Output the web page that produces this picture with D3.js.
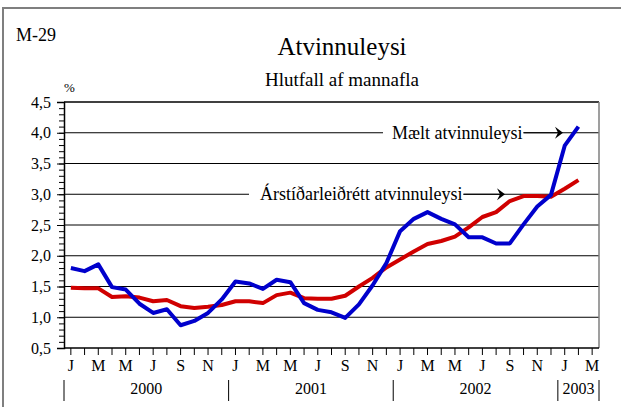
<!DOCTYPE html>
<html>
<head>
<meta charset="utf-8">
<script src="https://cdn.jsdelivr.net/npm/d3@7"></script>
<style>
  body { margin: 0; background: #fff; }
  svg text { font-family: "Liberation Serif", "Times New Roman", serif; fill: #000; }
</style>
</head>
<body>
<div id="chart"></div>
<script>
// Chart data
const years = ["2000", "2001", "2002", "2003"];
const monthsPerYear = [12, 12, 12, 3];
const monthLetters = ["J", "F", "M", "A", "M", "J", "J", "A", "S", "O", "N", "D"];
const yTicks = [0.5, 1.0, 1.5, 2.0, 2.5, 3.0, 3.5, 4.0, 4.5];

// Mælt atvinnuleysi (measured), Jan 2000 - Feb 2003
const measured = [
  1.80, 1.75, 1.86, 1.49, 1.45, 1.22, 1.07, 1.13, 0.87, 0.94, 1.07, 1.29,
  1.58, 1.55, 1.46, 1.61, 1.57, 1.23, 1.12, 1.08, 0.99, 1.21, 1.52, 1.88,
  2.40, 2.60, 2.71, 2.60, 2.51, 2.30, 2.30, 2.20, 2.20, 2.51, 2.80, 2.99,
  3.79, 4.10
];
// Árstíðarleiðrétt atvinnuleysi (seasonally adjusted)
const adjusted = [
  1.48, 1.47, 1.47, 1.33, 1.34, 1.32, 1.26, 1.28, 1.18, 1.15, 1.17, 1.20,
  1.26, 1.26, 1.23, 1.36, 1.40, 1.31, 1.30, 1.30, 1.35, 1.50, 1.64, 1.81,
  1.94, 2.07, 2.19, 2.24, 2.31, 2.46, 2.63, 2.71, 2.89, 2.97, 2.97, 2.96,
  3.09, 3.23
];

// month categories built from the arrays above
const months = [];
years.forEach((y, i) => {
  for (let m = 0; m < monthsPerYear[i]; m++) months.push({ year: y, m: m, key: y + "-" + m });
});

const width = 621, height = 407;
const plot = { left: 64, right: 599, top: 102, bottom: 348 };
const serif = "'Liberation Serif', 'Times New Roman', serif";

const svg = d3.select("#chart").append("svg")
  .attr("width", width)
  .attr("height", height)
  .attr("font-family", serif);

// outer frame
svg.append("rect")
  .attr("x", 3).attr("y", 8)
  .attr("width", 700).attr("height", 500)
  .attr("fill", "none")
  .attr("stroke", "#7f7f7f")
  .attr("stroke-width", 2);

const x = d3.scaleBand()
  .domain(months.map(d => d.key))
  .range([plot.left, plot.right]);

const y = d3.scaleLinear()
  .domain([0.5, 4.5])
  .range([plot.bottom, plot.top]);

const xc = i => x(months[i].key) + x.bandwidth() / 2;

// Titles
svg.append("text").attr("x", 16).attr("y", 41)
  .style("font-size", "18px").text("M-29");
svg.append("text").attr("x", 342).attr("y", 55)
  .attr("text-anchor", "middle").style("font-size", "25px").text("Atvinnuleysi");
svg.append("text").attr("x", 342).attr("y", 86)
  .attr("text-anchor", "middle").style("font-size", "19px").text("Hlutfall af mannafla");
svg.append("text").attr("x", 64).attr("y", 92)
  .style("font-size", "13px").text("%");

// gridlines
svg.append("g")
  .selectAll("line")
  .data(yTicks.filter(d => d > 0.5 && d < 4.5))
  .join("line")
  .attr("x1", plot.left).attr("x2", plot.right)
  .attr("y1", d => y(d)).attr("y2", d => y(d))
  .attr("stroke", "#000")
  .attr("stroke-width", 1);

// plot border: top black, right grey
svg.append("line")
  .attr("x1", plot.left).attr("x2", plot.right)
  .attr("y1", plot.top).attr("y2", plot.top)
  .attr("stroke", "#000").attr("stroke-width", 1.5);
svg.append("line")
  .attr("x1", plot.right).attr("x2", plot.right)
  .attr("y1", plot.top).attr("y2", plot.bottom)
  .attr("stroke", "#7f7f7f").attr("stroke-width", 1.5);

// y axis with minor ticks
const yAxis = svg.append("g").attr("transform", `translate(${plot.left},0)`);
yAxis.append("g")
  .call(d3.axisLeft(y).tickValues(d3.range(5, 46).map(d => d / 10)).tickSize(5).tickFormat(""))
  .call(g => g.select(".domain").remove())
  .call(g => g.selectAll("line").attr("stroke", "#000"));
yAxis.append("g")
  .call(d3.axisLeft(y).tickValues(yTicks).tickSize(7).tickPadding(6)
    .tickFormat(d => d3.format(".1f")(d).replace(".", ",")))
  .attr("font-family", serif).attr("font-size", 16)
  .call(g => g.select(".domain").attr("stroke", "#000").attr("stroke-width", 1.5))
  .call(g => g.selectAll("line").attr("stroke", "#000"))
  .call(g => g.selectAll("text").attr("fill", "#000"));

// x axis with month ticks
const xAxis = svg.append("g").attr("transform", `translate(0,${plot.bottom})`);
xAxis.call(d3.axisBottom(x).tickSize(7).tickPadding(5)
    .tickFormat(k => {
      const mm = months.find(d => d.key === k).m;
      return mm % 2 === 0 ? monthLetters[mm] : "";
    }))
  .attr("font-family", serif).attr("font-size", 16)
  .call(g => g.select(".domain").attr("stroke", "#000").attr("stroke-width", 1.5).attr("d", `M${plot.left},0H${plot.right}`))
  .call(g => g.selectAll("line").attr("stroke", "#000"))
  .call(g => g.selectAll("text").attr("fill", "#000"));

// year groups below
let start = 0;
const yearInfo = years.map((yr, i) => {
  const s = start, e = start + monthsPerYear[i] - 1;
  start += monthsPerYear[i];
  return { yr, x0: x(months[s].key), x1: x(months[e].key) + x.bandwidth() };
});
const yg = svg.append("g");
yg.selectAll("text").data(yearInfo).join("text")
  .attr("x", d => (d.x0 + d.x1) / 2)
  .attr("y", 394)
  .attr("text-anchor", "middle")
  .style("font-size", "16px")
  .text(d => d.yr);
const seps = yearInfo.map(d => d.x0).concat([yearInfo[yearInfo.length - 1].x1]);
yg.selectAll("line").data(seps).join("line")
  .attr("x1", d => d).attr("x2", d => d)
  .attr("y1", 380).attr("y2", 401)
  .attr("stroke", "#000").attr("stroke-width", 1);

// series lines
const line = d3.line().x((d, i) => xc(i)).y(d => y(d));
svg.append("path").datum(adjusted)
  .attr("d", line).attr("fill", "none")
  .attr("stroke", "#d00000").attr("stroke-width", 4)
  .attr("stroke-linejoin", "round");
svg.append("path").datum(measured)
  .attr("d", line).attr("fill", "none")
  .attr("stroke", "#0000cc").attr("stroke-width", 4)
  .attr("stroke-linejoin", "round");

// annotations
function note(label, v, boxX0, textX, lineEnd, size) {
  const yy = y(v);
  const g = svg.append("g");
  const t = g.append("text").attr("x", textX).attr("y", yy + 6)
    .style("font-size", size + "px").text(label);
  const tw = t.node().getComputedTextLength();
  g.insert("rect", "text")
    .attr("x", boxX0).attr("y", yy - 12)
    .attr("width", textX + tw - boxX0 + 1).attr("height", 24)
    .attr("fill", "#fff");
  const lx = textX + tw + 1;
  g.append("line").attr("x1", lx).attr("x2", lineEnd - 2)
    .attr("y1", yy).attr("y2", yy).attr("stroke", "#000").attr("stroke-width", 1.2);
  g.append("path")
    .attr("d", `M${lineEnd},${yy} L${lineEnd - 8},${yy - 6} L${lineEnd - 5},${yy} L${lineEnd - 8},${yy + 6} Z`)
    .attr("fill", "#000");
}
note("Mælt atvinnuleysi", 4.0, 383, 392, 563, 18);
note("Árstíðarleiðrétt atvinnuleysi", 3.0, 249, 260, 505, 18);
</script>
</body>
</html>
